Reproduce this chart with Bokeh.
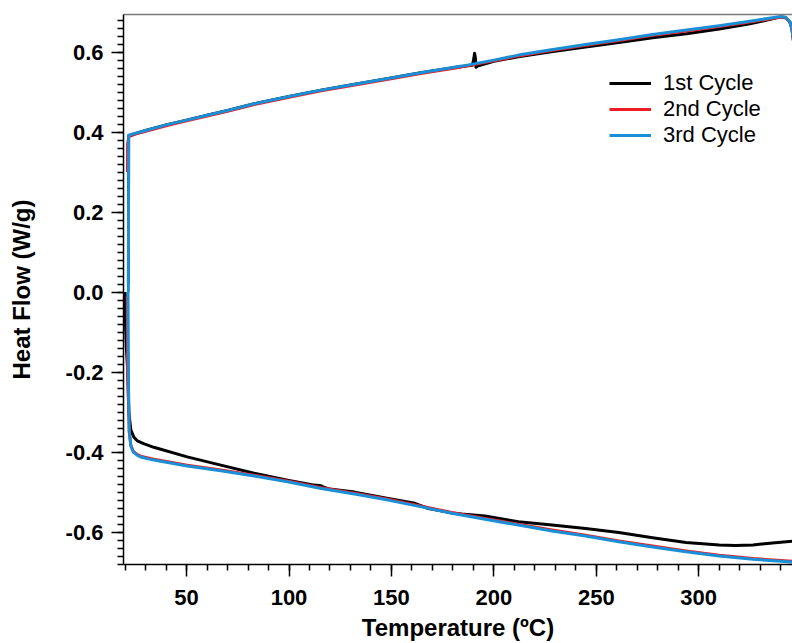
from bokeh.plotting import figure
from bokeh.models import FixedTicker, LinearAxis, Range1d
from bokeh.embed import file_html
from bokeh.resources import INLINE

# ---- DSC heat flow, three heating/cooling cycles ----
# Heating branch (temperature in degC, heat flow in W/g)
cycle3_heat_T = [21.6, 21.7, 25, 30, 40, 50, 60, 70, 83, 100, 115.7, 130, 148.4, 165, 184.3,
                 200, 212, 228, 244.8, 261, 277.5, 294, 310, 325, 336, 340, 342.5, 344.5,
                 345.5, 346.5, 348, 349.5, 349]
cycle3_heat_hf = [0.0, 0.392, 0.397, 0.404, 0.418, 0.430, 0.442, 0.454, 0.471, 0.489, 0.505,
                  0.518, 0.534, 0.549, 0.565, 0.580, 0.5925, 0.606, 0.619, 0.631, 0.644, 0.655,
                  0.666, 0.677, 0.686, 0.689, 0.687, 0.676, 0.660, 0.620, 0.400, -0.200, -0.600]

cycle2_heat_T = [21.1, 21.2, 21.8, 25, 30, 40, 50, 60, 70, 83, 100, 115.7, 130, 148.4, 165,
                 184.3, 200, 212, 228, 244.8, 261, 277.5, 294, 310, 325, 336, 340, 342.5,
                 344.5, 345.5, 346.5, 348, 349.5, 349]
cycle2_heat_hf = [0.300, 0.370, 0.389, 0.395, 0.402, 0.416, 0.428, 0.440, 0.452, 0.469, 0.487,
                  0.503, 0.516, 0.532, 0.547, 0.563, 0.578, 0.5905, 0.604, 0.617, 0.629, 0.642,
                  0.653, 0.664, 0.675, 0.684, 0.688, 0.686, 0.675, 0.659, 0.619, 0.400, -0.200,
                  -0.600]

cycle1_heat_T = [21.6, 21.7, 25, 30, 40, 50, 60, 70, 83, 100, 115.7, 130, 148.4, 165, 184.3,
                 189.5, 190.2, 190.6, 191.0, 191.3, 192, 200, 212, 228, 244.8, 261, 277.5, 294,
                 310, 325, 336, 340, 342.5, 344.5, 345.5, 346.5, 348, 349.5, 349]
cycle1_heat_hf = [0.020, 0.390, 0.396, 0.404, 0.418, 0.430, 0.442, 0.454, 0.471, 0.489, 0.505,
                  0.518, 0.534, 0.549, 0.564, 0.567, 0.583, 0.597, 0.585, 0.562, 0.565, 0.577,
                  0.5885, 0.601, 0.613, 0.624, 0.636, 0.646, 0.658, 0.671, 0.683, 0.688, 0.686,
                  0.675, 0.659, 0.619, 0.400, -0.200, -0.600]

# Cooling branch (from the top temperature back down)
cycle3_cool_T = [347, 340, 326.5, 310, 293.8, 277.5, 261, 244.8, 228.4, 212, 195.7, 179.4,
                 164.7, 148.4, 132, 115.7, 99.3, 83, 66.7, 50.3, 34, 28, 25.8, 24, 22.8, 22.0,
                 21.7, 21.5, 21.4]
cycle3_cool_hf = [-0.675, -0.673, -0.668, -0.660, -0.649, -0.637, -0.624, -0.610, -0.597,
                  -0.5825, -0.568, -0.553, -0.537, -0.520, -0.505, -0.491, -0.474, -0.460,
                  -0.4467, -0.435, -0.420, -0.413, -0.4075, -0.400, -0.385, -0.350, -0.250,
                  -0.100, 0.0]

cycle2_cool_T = [347, 340, 326.5, 310, 293.8, 277.5, 261, 244.8, 228.4, 212, 195.7, 179.4,
                 164.7, 148.4, 132, 115.7, 99.3, 83, 66.7, 50.3, 34, 28, 25.8, 24, 22.8, 22.0,
                 21.5, 21.2, 21.0]
cycle2_cool_hf = [-0.673, -0.671, -0.666, -0.658, -0.647, -0.635, -0.622, -0.608, -0.595,
                  -0.5805, -0.566, -0.551, -0.535, -0.518, -0.503, -0.489, -0.472, -0.458,
                  -0.4447, -0.433, -0.418, -0.411, -0.4055, -0.398, -0.383, -0.348, -0.250,
                  -0.200, -0.010]

cycle1_cool_T = [347, 346, 336, 326.5, 318, 310, 293.8, 277.5, 261, 244.8, 228.4, 212, 195.7,
                 184.3, 179.4, 168, 161.4, 148.4, 132, 119.8, 117, 115.7, 112.4, 99.3, 83,
                 66.7, 50.3, 34, 29, 26, 24.2, 22.8, 21.8, 21.3, 20.6, 20.2, 20.0]
cycle1_cool_hf = [-0.622, -0.6225, -0.627, -0.6325, -0.6335, -0.6325, -0.626, -0.614, -0.601,
                  -0.591, -0.5825, -0.574, -0.560, -0.555, -0.552, -0.541, -0.528, -0.516,
                  -0.500, -0.4925, -0.488, -0.484, -0.4825, -0.470, -0.453, -0.4325, -0.412,
                  -0.388, -0.379, -0.372, -0.362, -0.345, -0.300, -0.200, -0.140, -0.080, 0.0]

series_names = ["1st Cycle", "2nd Cycle", "3rd Cycle"]
series_colors = ["#000000", "#ee1c25", "#1b8fd6"]

x_ticks = [50, 100, 150, 200, 250, 300]
x_tick_labels = ["50", "100", "150", "200", "250", "300"]
y_ticks = [-0.6, -0.4, -0.2, 0.0, 0.2, 0.4, 0.6]
y_tick_labels = ["-0.6", "-0.4", "-0.2", "0.0", "0.2", "0.4", "0.6"]

FONT = "Liberation Sans"

p = figure(width=792, height=643, output_backend="svg", toolbar_location=None,
           x_range=Range1d(19.2, 345.8), y_range=Range1d(-0.681, 0.694),
           min_border_left=123, min_border_right=0, min_border_top=14,
           min_border_bottom=79,
           x_axis_label="Temperature (ºC)", y_axis_label="Heat Flow (W/g)")
p.grid.visible = False
p.outline_line_color = None
p.background_fill_color = "white"
p.border_fill_color = "white"

curves = [
    (cycle1_heat_T + cycle1_cool_T, cycle1_heat_hf + cycle1_cool_hf),
    (cycle2_heat_T + cycle2_cool_T, cycle2_heat_hf + cycle2_cool_hf),
    (cycle3_heat_T + cycle3_cool_T, cycle3_heat_hf + cycle3_cool_hf),
]
for (xs, ys), name, color in zip(curves, series_names, series_colors):
    p.line(xs, ys, line_color=color, line_width=3, legend_label=name,
           line_join="round")

x_minor = [t for t in range(20, 350, 10)]
y_minor = [round(-0.68 + 0.02 * i, 2) for i in range(69)]

xa = p.xaxis[0]
xa.ticker = FixedTicker(ticks=x_ticks, minor_ticks=x_minor)
xa.major_label_overrides = dict(zip(x_ticks, x_tick_labels))
ya = p.yaxis[0]
ya.ticker = FixedTicker(ticks=y_ticks, minor_ticks=y_minor)
ya.major_label_overrides = dict(zip(y_ticks, y_tick_labels))

for ax in (xa, ya):
    ax.axis_line_color = "black"
    ax.axis_line_width = 1.5
    ax.major_tick_line_color = "black"
    ax.major_tick_line_width = 1.5
    ax.minor_tick_line_color = "black"
    ax.minor_tick_line_width = 1.5
    ax.major_tick_out = 12
    ax.major_tick_in = 0
    ax.minor_tick_out = 6
    ax.minor_tick_in = 0
    ax.major_label_text_font = FONT
    ax.major_label_text_font_style = "bold"
    ax.major_label_text_font_size = "22px"
    ax.major_label_text_color = "black"
    ax.major_label_standoff = 8
    ax.axis_label_text_font = FONT
    ax.axis_label_text_font_style = "bold"
    ax.axis_label_text_font_size = "24px"
    ax.axis_label_text_color = "black"
xa.major_label_standoff = 13
xa.axis_label_standoff = 6
ya.axis_label_standoff = 28

# thin grey line closing the top of the frame
top = LinearAxis(ticker=FixedTicker(ticks=[]), axis_line_color="#7a7a7a",
                 axis_line_width=1.5, major_tick_line_color=None,
                 minor_tick_line_color=None, major_label_text_font_size="0px")
p.add_layout(top, "above")

lg = p.legend[0]
lg.location = (486, 416)
lg.border_line_color = None
lg.background_fill_alpha = 0
lg.padding = 0
lg.margin = 0
lg.spacing = 0
lg.glyph_width = 42
lg.glyph_height = 24
lg.label_height = 24
lg.label_standoff = 12
lg.label_text_font = FONT
lg.label_text_font_size = "22px"
lg.label_text_color = "black"

open("out.html", "w").write(file_html(p, INLINE))
